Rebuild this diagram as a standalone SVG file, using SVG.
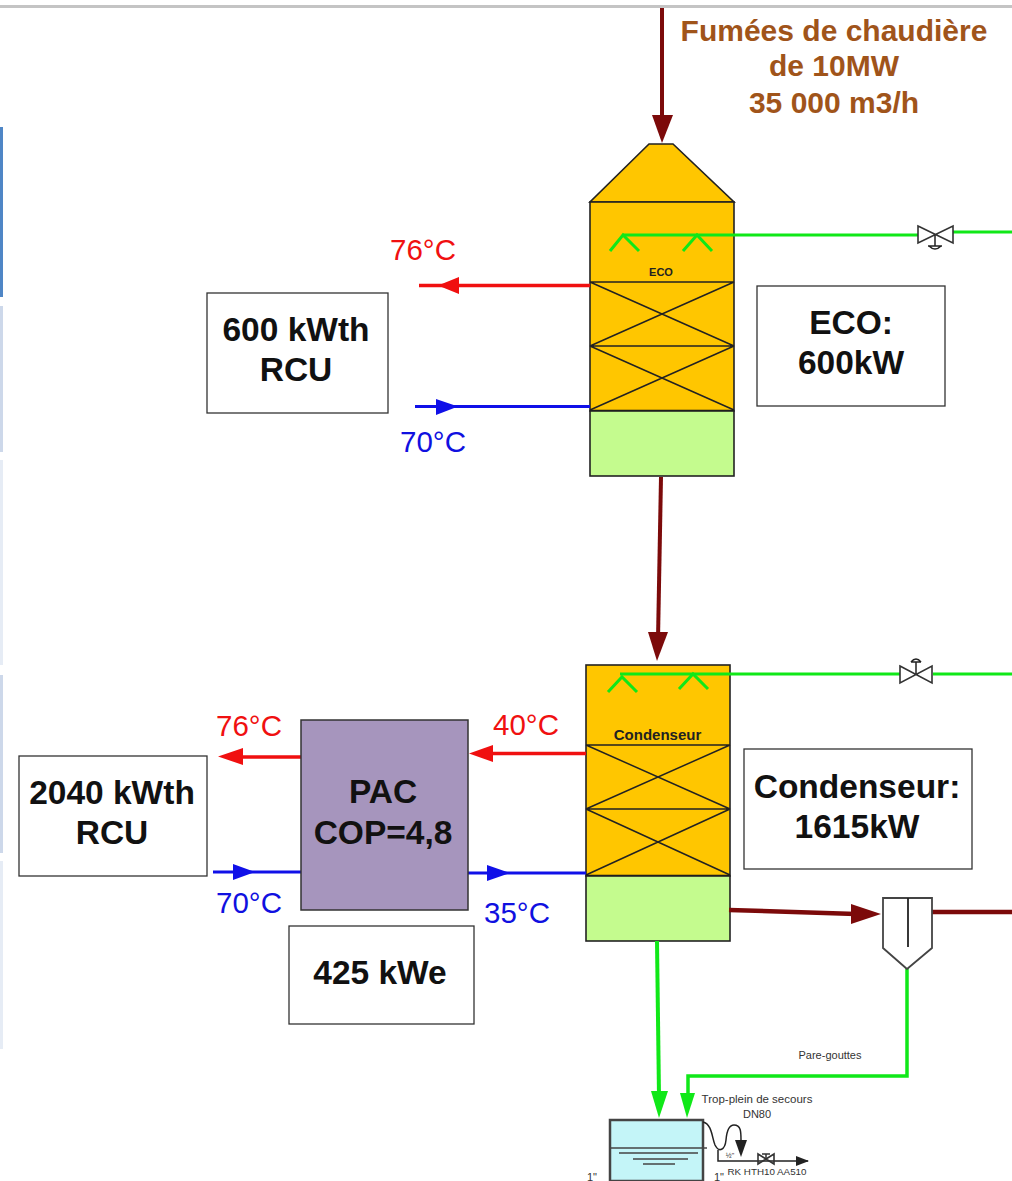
<svg xmlns="http://www.w3.org/2000/svg" width="1012" height="1181" viewBox="0 0 1012 1181">
<style>
text{font-family:"Liberation Sans",Arial,sans-serif}
.lb{font-weight:bold;fill:#111;text-anchor:middle;font-size:33.500px}
.t{font-size:29.500px;text-anchor:middle}
.r{fill:#f01010}.b{fill:#1010e0}
.box{fill:#fff;stroke:#333;stroke-width:1.3}
.tower{fill:#ffc600;stroke:#222;stroke-width:1.6}
.base{fill:#c4fb8e;stroke:#222;stroke-width:1.6}
.l{stroke:#222;stroke-width:1.5;fill:none}
.gl{stroke:#10e818;fill:none}
.dr{stroke:#7c0a0a;fill:none}
.vl{stroke:#333;stroke-width:1.6;fill:none}
.s{font-size:11px;fill:#333;text-anchor:middle}
</style>
<rect width="1012" height="1181" fill="#fff"/>
<rect x="0" y="5" width="1012" height="3" fill="#c4c4c4"/>
<g id="sidebar">
<rect x="0" y="127" width="3" height="170" fill="#4f86c6"/>
<rect x="0" y="306" width="3" height="146" fill="#cdd8ea"/>
<rect x="0" y="460" width="3" height="205" fill="#e6ecf5"/>
<rect x="0" y="675" width="3" height="178" fill="#cdd8ea"/>
<rect x="0" y="861" width="3" height="188" fill="#e6ecf5"/>
</g>
<g id="title" style="font-weight:bold;font-size:30px;fill:#a0541a;text-anchor:middle">
<text x="834" y="41">Fumées de chaudière</text>
<text x="834" y="76">de 10MW</text>
<text x="834" y="113">35 000 m3/h</text>
</g>
<g id="eco-tower">
<path class="tower" d="M649 144H673L734 202H590Z"/>
<rect class="tower" x="590" y="202" width="144" height="209"/>
<path class="l" d="M590 282H734M590 346H734M590 282L734 346M734 282L590 346M590 346L734 410M734 346L590 410"/>
<path d="M590 411H734" stroke="#111" stroke-width="2.500"/>
<rect class="base" x="590" y="411" width="144" height="65"/>
<text x="661" y="276" font-size="11" font-weight="bold" text-anchor="middle" fill="#222">ECO</text>
</g>
<g id="cond-tower">
<rect class="tower" x="586" y="665" width="144" height="211"/>
<path class="l" d="M586 745H730M586 809H730M586 745L730 809M730 745L586 809M586 809L730 875M730 809L586 875"/>
<path d="M586 876H730" stroke="#111" stroke-width="2.500"/>
<rect class="base" x="586" y="876" width="144" height="65"/>
<text x="657.500" y="740" font-size="15" font-weight="bold" text-anchor="middle" fill="#222">Condenseur</text>
</g>
<g id="connectors">
<path class="dr" stroke-width="4" d="M662 8V120"/>
<path d="M652 115H673L662 143Z" fill="#7c0a0a"/>
<path class="dr" stroke-width="4" d="M661 477L658 640"/>
<path d="M648 632H668L657 661Z" fill="#7c0a0a"/>
<path class="dr" stroke-width="4.500" d="M729 910L856 914"/>
<path d="M851 904L881 914L851 924Z" fill="#7c0a0a"/>
<path class="dr" stroke-width="4.500" d="M931 912H1012"/>
<path class="gl" stroke-width="3" d="M623 235H918M953 232H1012"/>
<path class="gl" stroke-width="3" d="M610 251L623 235L639 251M683 251L697 235L712 251"/>
<path class="gl" stroke-width="3" d="M620 674H900M933 674H1012"/>
<path class="gl" stroke-width="3" d="M608 692L622 677L637 692M679 689L693 674L708 689"/>
<path class="gl" stroke-width="4" d="M657 941L659 1096"/>
<path d="M651 1091H668L659 1118Z" fill="#10e818"/>
<path class="gl" stroke-width="3.500" d="M907 967V1076H688V1095"/>
<path d="M680 1093H695L687 1118Z" fill="#10e818"/>
<path stroke="#f01010" stroke-width="3.500" d="M419 285.500H590"/>
<path d="M459 277L438 285.500L459 294Z" fill="#f01010"/>
<path stroke="#1010e8" stroke-width="3" d="M415 406.500H590"/>
<path d="M436 399L458 406.500L436 415Z" fill="#1010e8"/>
<path stroke="#f01010" stroke-width="3.500" d="M230 757H301M485 753.500H586"/>
<path d="M243 748L218 756.500L243 765Z" fill="#f01010"/>
<path d="M493 745L469 753.500L493 762Z" fill="#f01010"/>
<path stroke="#1010e8" stroke-width="3" d="M213 872H301M468 873H586"/>
<path d="M233 864L255 872L233 880Z" fill="#1010e8"/>
<path d="M487 865L510 873L487 881Z" fill="#1010e8"/>
</g>
<g id="valve-eco">
<path class="vl" d="M918 226L953 243V226L918 243Z"/>
<path class="l" d="M935 235V246M928 246H942M929 246Q935 252 941 246"/>
</g>
<g id="valve-cond">
<path class="vl" d="M900 666L932 683V666L900 683Z"/>
<path class="l" d="M916 674V662M911 662H921M911 662Q916 656 921 662"/>
</g>
<g id="separator">
<path d="M883 898H932V948L907 969L883 948Z" fill="#fff" stroke="#444" stroke-width="1.800"/>
<path d="M908 898V947" stroke="#222" stroke-width="1.800"/>
</g>
<g id="box-600"><rect class="box" x="207" y="293" width="181" height="120"/><text class="lb" x="296" y="341">600 kWth</text><text class="lb" x="296" y="381">RCU</text></g>
<g id="box-eco"><rect class="box" x="757" y="286" width="188" height="120"/><text class="lb" x="851" y="334">ECO:</text><text class="lb" x="851" y="374">600kW</text></g>
<g id="box-2040"><rect class="box" x="19" y="756" width="188" height="120"/><text class="lb" x="112" y="804">2040 kWth</text><text class="lb" x="112" y="844">RCU</text></g>
<g id="box-cond"><rect class="box" x="744" y="749" width="228" height="120"/><text class="lb" x="857" y="798">Condenseur:</text><text class="lb" x="857" y="838">1615kW</text></g>
<g id="box-425"><rect class="box" x="289" y="926" width="185" height="98"/><text class="lb" x="380" y="984">425 kWe</text></g>
<g id="pac"><rect x="301" y="720" width="167" height="190" fill="#a695bd" stroke="#333" stroke-width="1.500"/><text class="lb" x="383" y="803">PAC</text><text class="lb" x="383" y="844">COP=4,8</text></g>
<g id="temps">
<text class="t r" x="423" y="260">76°C</text>
<text class="t b" x="433" y="452">70°C</text>
<text class="t r" x="249" y="736">76°C</text>
<text class="t r" x="526" y="735">40°C</text>
<text class="t b" x="249" y="913">70°C</text>
<text class="t b" x="517" y="923">35°C</text>
</g>
<g id="tank">
<path d="M610 1120H703V1181H610Z" fill="#c4f5f8" stroke="#444" stroke-width="2.500"/>
<path d="M610 1148H707M619 1153H698M633 1159H688M643 1164H675" stroke="#444" stroke-width="1.500"/>
<path class="l" d="M703 1122C712 1124 712 1138 715 1145C719 1153 725 1150 726 1140C727 1128 731 1125 734 1125C741 1125 741 1132 741 1140"/>
<path d="M735 1140H747L741 1157Z" fill="#222"/>
<path class="l" d="M718 1150V1161H808"/>
<path class="vl" d="M758 1154L774 1164V1154L758 1164Z"/>
<path d="M766 1159V1154M762 1154H770" stroke="#333" stroke-width="1.500"/>
<path d="M796 1156L809 1161L796 1166Z" fill="#222"/>
<text class="s" x="830" y="1059">Pare-gouttes</text>
<text class="s" x="757" y="1103" style="font-size:11.500px">Trop-plein de secours</text>
<text class="s" x="757" y="1118">DN80</text>
<text x="730" y="1158" font-size="7" fill="#333" text-anchor="middle">½"</text>
<text class="s" x="767" y="1175" style="font-size:9.800px">RK HTH10 AA510</text>
<text class="s" x="592" y="1181">1"</text>
<text class="s" x="719" y="1181">1"</text>
</g>
</svg>
